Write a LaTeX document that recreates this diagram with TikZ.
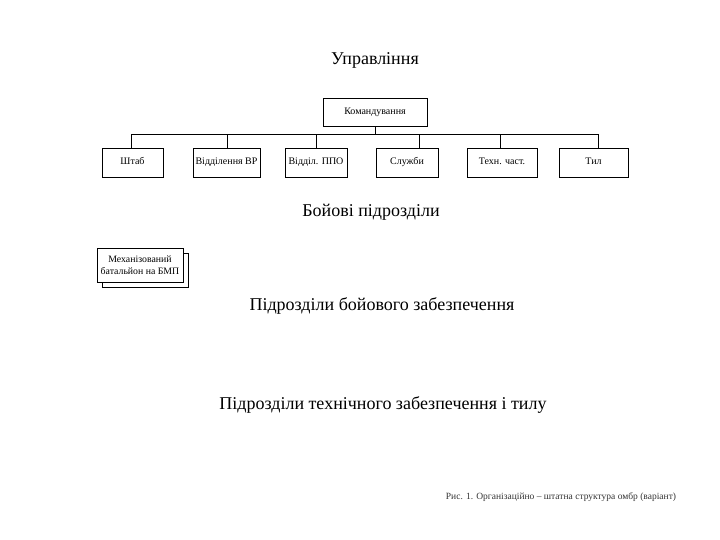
\documentclass[tikz,border=0pt]{standalone}
\usepackage{fontspec}
\setmainfont{Liberation Serif}
\newfontfamily\cyrserif{Liberation Serif}
\usetikzlibrary{positioning}
\tikzset{
  unitBox/.style={rectangle, draw=black, line width=0.7pt, fill=white, minimum height=29pt, align=center, font=\cyrserif\fontsize{10}{12}\selectfont, text height=7pt, text depth=2pt, inner sep=1pt},
  backBox/.style={rectangle, draw=black, line width=0.7pt, fill=white, minimum width=86pt, minimum height=34pt},
  secTitle/.style={font=\cyrserif\fontsize{18}{20}\selectfont, inner sep=0pt},
  busLine/.style={line width=0.7pt},
}

\begin{document}
\begin{tikzpicture}[x=1pt, y=-1pt]
\useasboundingbox (0,0) rectangle (720,540);

% Управління
\node (ctrl) [secTitle] at (375,60) {Управління};
\node (cmd) [unitBox, minimum width=104pt, minimum height=28pt] at (375,112) {Командування};

\node (stab)  [unitBox, minimum width=61pt] at (132.5,162.5) {Штаб};
\node (vidvr) [unitBox, minimum width=67pt] at (226.5,162.5) {Відділення ВР};
\node (ppo)   [unitBox, minimum width=62pt] at (316,162.5)   {Відділ. ППО};
\node (sluzh) [unitBox, minimum width=62pt] at (407,162.5)   {Служби};
\node (tekh)  [unitBox, minimum width=70pt] at (502,162.5)   {Техн. част.};
\node (tyl)   [unitBox, minimum width=69pt] at (593.5,162.5) {Тил};

% bus
\coordinate (busL) at (131,134);
\coordinate (busR) at (598,134);
\draw [busLine] (busL) -- (busR);
\draw [busLine] (cmd.south) -- (cmd.south |- busL);
\draw [busLine] ([xshift=-1.5pt]stab.north) -- ([xshift=-1.5pt]stab.north |- busL);
\draw [busLine] ([xshift=0.5pt]vidvr.north) -- ([xshift=0.5pt]vidvr.north |- busL);
\draw [busLine] (ppo.north) -- (ppo.north |- busL);
\draw [busLine] ([xshift=12pt]sluzh.north) -- ([xshift=12pt]sluzh.north |- busL);
\draw [busLine] ([xshift=-2pt]tekh.north) -- ([xshift=-2pt]tekh.north |- busL);
\draw [busLine] ([xshift=4.5pt]tyl.north) -- ([xshift=4.5pt]tyl.north |- busL);

% Бойові підрозділи
\node (combat) [secTitle] at (371,212) {Бойові підрозділи};
\node (mechB) [backBox] at (145,270) {};
\node (mech) [unitBox, minimum width=86pt, minimum height=34pt, inner sep=0pt, text height=, text depth=, font=\cyrserif\fontsize{9.8}{12}\selectfont] at (140,265) {Механізований\\батальйон на БМП};

% other sections
\node (support) [secTitle] at (382,306) {Підрозділи бойового забезпечення};
\node (logist)  [secTitle] at (383,405) {Підрозділи технічного забезпечення і тилу};

\node (caption) [font=\cyrserif\fontsize{9.5}{10}\selectfont, text=black!80] at (561,497) {Рис. 1. Організаційно – штатна структура омбр (варіант)};
\end{tikzpicture}
\end{document}
